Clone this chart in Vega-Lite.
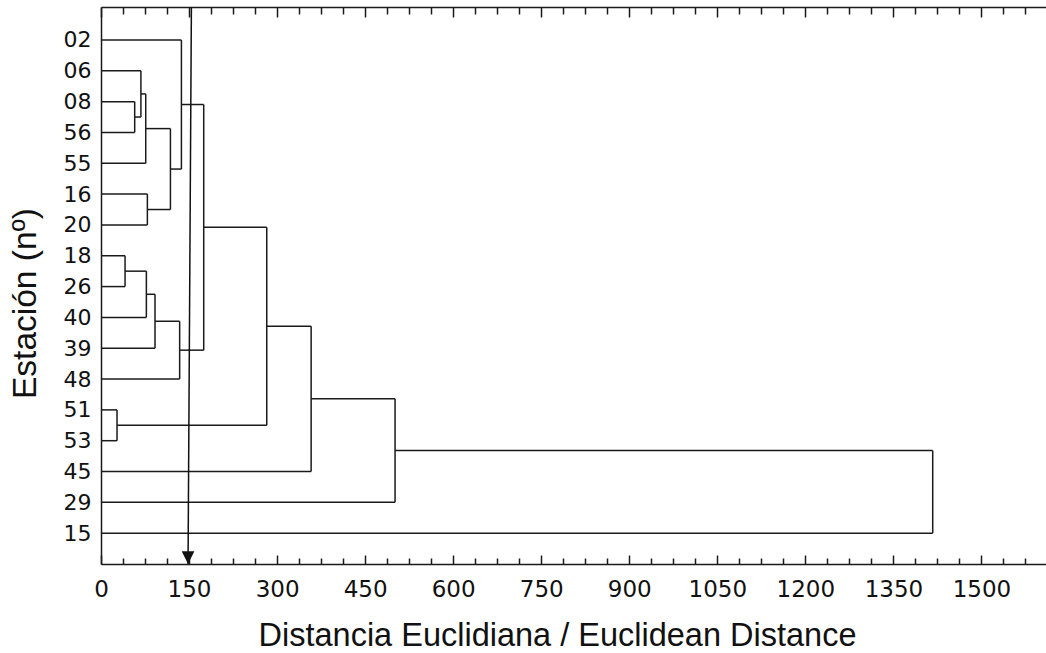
{
  "$schema": "https://vega.github.io/schema/vega-lite/v6.json",
  "width": 945,
  "height": 557,
  "autosize": {"type": "none"},
  "padding": {"left": 101, "top": 7, "right": 0, "bottom": 89},
  "background": "white",
  "config": {
    "view": {"stroke": null},
    "axis": {"domainColor": "#1a1a1a", "domainWidth": 1.5, "tickColor": "#1a1a1a", "tickWidth": 1.5, "labelColor": "#111111", "titleColor": "#111111", "grid": false}
  },
  "datasets": {
    "segments": [
      {"x": 0, "x2": 137, "y": 0, "y2": 0},
      {"x": 0, "x2": 68, "y": 1, "y2": 1},
      {"x": 0, "x2": 57.4, "y": 2, "y2": 2},
      {"x": 0, "x2": 57.4, "y": 3, "y2": 3},
      {"x": 0, "x2": 76.2, "y": 4, "y2": 4},
      {"x": 0, "x2": 79, "y": 5, "y2": 5},
      {"x": 0, "x2": 79, "y": 6, "y2": 6},
      {"x": 0, "x2": 41, "y": 7, "y2": 7},
      {"x": 0, "x2": 41, "y": 8, "y2": 8},
      {"x": 0, "x2": 77.3, "y": 9, "y2": 9},
      {"x": 0, "x2": 92, "y": 10, "y2": 10},
      {"x": 0, "x2": 134, "y": 11, "y2": 11},
      {"x": 0, "x2": 27.3, "y": 12, "y2": 12},
      {"x": 0, "x2": 27.3, "y": 13, "y2": 13},
      {"x": 0, "x2": 358, "y": 14, "y2": 14},
      {"x": 0, "x2": 501, "y": 15, "y2": 15},
      {"x": 0, "x2": 1417, "y": 16, "y2": 16},
      {"x": 57.4, "x2": 68, "y": 2.5, "y2": 2.5},
      {"x": 68, "x2": 76.2, "y": 1.75, "y2": 1.75},
      {"x": 76.2, "x2": 118.3, "y": 2.875, "y2": 2.875},
      {"x": 79, "x2": 118.3, "y": 5.5, "y2": 5.5},
      {"x": 118.3, "x2": 137, "y": 4.1875, "y2": 4.1875},
      {"x": 137, "x2": 175, "y": 2.09375, "y2": 2.09375},
      {"x": 41, "x2": 77.3, "y": 7.5, "y2": 7.5},
      {"x": 77.3, "x2": 92, "y": 8.25, "y2": 8.25},
      {"x": 92, "x2": 134, "y": 9.125, "y2": 9.125},
      {"x": 134, "x2": 175, "y": 10.0625, "y2": 10.0625},
      {"x": 175, "x2": 282.4, "y": 6.078, "y2": 6.078},
      {"x": 27.3, "x2": 282.4, "y": 12.5, "y2": 12.5},
      {"x": 282.4, "x2": 358, "y": 9.289, "y2": 9.289},
      {"x": 358, "x2": 501, "y": 11.64, "y2": 11.64},
      {"x": 501, "x2": 1417, "y": 13.32, "y2": 13.32},
      {"x": 57.4, "x2": 57.4, "y": 2, "y2": 3},
      {"x": 68, "x2": 68, "y": 1, "y2": 2.5},
      {"x": 76.2, "x2": 76.2, "y": 1.75, "y2": 4},
      {"x": 79, "x2": 79, "y": 5, "y2": 6},
      {"x": 118.3, "x2": 118.3, "y": 2.875, "y2": 5.5},
      {"x": 137, "x2": 137, "y": 0, "y2": 4.1875},
      {"x": 41, "x2": 41, "y": 7, "y2": 8},
      {"x": 77.3, "x2": 77.3, "y": 7.5, "y2": 9},
      {"x": 92, "x2": 92, "y": 8.25, "y2": 10},
      {"x": 134, "x2": 134, "y": 9.125, "y2": 11},
      {"x": 175, "x2": 175, "y": 2.09375, "y2": 10.0625},
      {"x": 27.3, "x2": 27.3, "y": 12, "y2": 13},
      {"x": 282.4, "x2": 282.4, "y": 6.078, "y2": 12.5},
      {"x": 358, "x2": 358, "y": 9.289, "y2": 14},
      {"x": 501, "x2": 501, "y": 11.64, "y2": 15},
      {"x": 1417, "x2": 1417, "y": 13.32, "y2": 16}
    ],
    "arrow": [{"x": 154, "x2": 148.3, "y": -1.07, "y2": 17}],
    "head": [{"x": 148.3, "y": 17}]
  },
  "layer": [
    {
      "data": {"name": "segments"},
      "mark": {"type": "rule", "color": "#1a1a1a", "strokeWidth": 1.5},
      "encoding": {
        "x": {
          "field": "x", "type": "quantitative",
          "scale": {"domain": [0, 1610], "nice": false, "zero": false},
          "axis": {
            "orient": "bottom",
            "values": [0, 37.5, 75, 112.5, 150, 187.5, 225, 262.5, 300, 337.5, 375, 412.5, 450, 487.5, 525, 562.5, 600, 637.5, 675, 712.5, 750, 787.5, 825, 862.5, 900, 937.5, 975, 1012.5, 1050, 1087.5, 1125, 1162.5, 1200, 1237.5, 1275, 1312.5, 1350, 1387.5, 1425, 1462.5, 1500, 1537.5, 1575],
            "format": "d",
            "labelExpr": "datum.value % 150 === 0 ? datum.label : ''",
            "tickSize": {"condition": {"test": "datum.value % 150 === 0", "value": -9}, "value": -6},
            "labelOverlap": false, "labelFlush": false, "labelBound": false,
            "labelFont": "DejaVu Sans", "labelFontSize": 23, "labelPadding": 23,
            "title": "Distancia Euclidiana / Euclidean Distance",
            "titleFont": "Liberation Sans", "titleFontSize": 32.5, "titleFontWeight": "normal",
            "titleX": 456, "titleY": 81, "titleBaseline": "alphabetic", "titleAlign": "center"
          }
        },
        "x2": {"field": "x2"},
        "y": {
          "field": "y", "type": "quantitative",
          "scale": {"domain": [-1.07, 17], "reverse": true, "nice": false, "zero": false},
          "axis": {
            "orient": "left",
            "values": [0, 1, 2, 3, 4, 5, 6, 7, 8, 9, 10, 11, 12, 13, 14, 15, 16],
            "labelExpr": "['02','06','08','56','55','16','20','18','26','40','39','48','51','53','45','29','15'][datum.value]",
            "ticks": false, "labelPadding": 10,
            "labelOverlap": false, "labelFlush": false, "labelBound": false,
            "labelFont": "DejaVu Sans", "labelFontSize": 22,
            "title": "Estación (nº)",
            "titleFont": "Liberation Sans", "titleFontSize": 33.5, "titleFontWeight": "normal",
            "titleX": -66, "titleY": 296, "titleBaseline": "alphabetic", "titleAlign": "center", "titleAngle": 270
          }
        },
        "y2": {"field": "y2"}
      }
    },
    {
      "data": {"name": "arrow"},
      "mark": {"type": "rule", "color": "#111111", "strokeWidth": 1.5},
      "encoding": {
        "x": {
          "field": "x", "type": "quantitative",
          "scale": {"domain": [0, 1610], "nice": false, "zero": false},
          "axis": {
            "orient": "top",
            "values": [0, 37.5, 75, 112.5, 150, 187.5, 225, 262.5, 300, 337.5, 375, 412.5, 450, 487.5, 525, 562.5, 600, 637.5, 675, 712.5, 750, 787.5, 825, 862.5, 900, 937.5, 975, 1012.5, 1050, 1087.5, 1125, 1162.5, 1200, 1237.5, 1275, 1312.5, 1350, 1387.5, 1425, 1462.5, 1500, 1537.5, 1575],
            "labels": false,
            "tickSize": {"condition": {"test": "datum.value % 150 === 0", "value": -10}, "value": -7},
            "title": null
          }
        },
        "x2": {"field": "x2"},
        "y": {"field": "y", "type": "quantitative", "scale": {"domain": [-1.07, 17], "reverse": true, "nice": false, "zero": false}, "axis": null},
        "y2": {"field": "y2"}
      }
    },
    {
      "data": {"name": "head"},
      "mark": {"type": "point", "shape": "M-1,-2L1,-2L0,0Z", "filled": true, "size": 160, "color": "#111111", "opacity": 1},
      "encoding": {
        "x": {"field": "x", "type": "quantitative", "scale": {"domain": [0, 1610], "nice": false, "zero": false}, "axis": null},
        "y": {"field": "y", "type": "quantitative", "scale": {"domain": [-1.07, 17], "reverse": true, "nice": false, "zero": false}, "axis": null}
      }
    }
  ],
  "resolve": {"axis": {"x": "independent", "y": "independent"}}
}
